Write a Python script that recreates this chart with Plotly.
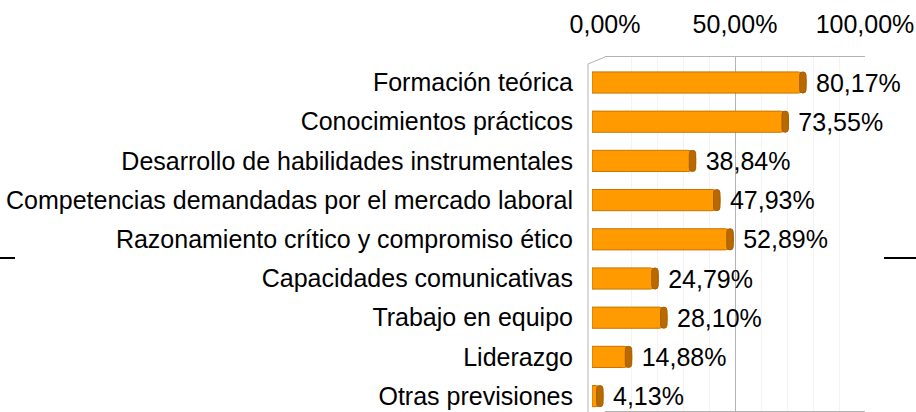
import plotly.graph_objects as go

categories = [
    "Formación teórica",
    "Conocimientos prácticos",
    "Desarrollo de habilidades instrumentales",
    "Competencias demandadas por el mercado laboral",
    "Razonamiento crítico y compromiso ético",
    "Capacidades comunicativas",
    "Trabajo en equipo",
    "Liderazgo",
    "Otras previsiones",
]
values = [80.17, 73.55, 38.84, 47.93, 52.89, 24.79, 28.10, 14.88, 4.13]
tick_values = [0, 50, 100]
tick_labels = ["0,00%", "50,00%", "100,00%"]

W, H = 916, 412
FONT = "Liberation Sans, Arial, sans-serif"
FS = 25

labels = ["\u00a0" + f"{v:.2f}".replace(".", ",") + "%" for v in values]
pos = list(range(len(categories)))
cap = 2.4

fig = go.Figure()
# back wall (empty subplot for gridlines and top tick labels) - drawn first
fig.add_trace(go.Scatter(x=[], y=[], xaxis="x", yaxis="y", showlegend=False))
fig.add_trace(go.Bar(
    y=pos, x=values, orientation="h", width=0.54,
    marker=dict(color="#ff9a00", line=dict(color="#c97400", width=1), cornerradius=8),
    xaxis="x2", yaxis="y2", hoverinfo="skip", showlegend=False,
))
fig.add_trace(go.Bar(
    y=pos, x=[cap] * len(values), base=[v - cap for v in values], orientation="h", width=0.54,
    marker=dict(color="#b86a00", line=dict(color="#a85f00", width=1), cornerradius=6),
    text=labels, textposition="outside", constraintext="none", cliponaxis=False,
    textfont=dict(size=FS, color="#000000", family=FONT),
    xaxis="x2", yaxis="y2", hoverinfo="skip", showlegend=False,
))

y0 = 82.5
step = 39.2
rng_top = -y0 / step
rng_bot = (H - y0) / step

fig.update_layout(
    width=W, height=H, margin=dict(l=0, r=0, t=0, b=0, autoexpand=False),
    paper_bgcolor="white", plot_bgcolor="rgba(0,0,0,0)",
    font=dict(family=FONT, size=FS, color="#000000"),
    barmode="overlay",
    xaxis=dict(domain=[605 / W, 865 / W], range=[0, 100], anchor="y", side="top",
               tickvals=tick_values, ticktext=tick_labels, showgrid=True, gridcolor="#b3b3b3",
               gridwidth=1, zeroline=False, showline=True, linecolor="#b3b3b3", mirror=True,
               ticks="", ticklabelstandoff=13, tickfont=dict(size=FS, color="#000000", family=FONT),
               minor=dict(dtick=10, showgrid=True, gridcolor="#f3f3f3"), fixedrange=True,
               automargin=False),
    yaxis=dict(domain=[1 / H, 1 - 57 / H], range=[0, 1], anchor="x", visible=False,
               fixedrange=True, automargin=False),
    xaxis2=dict(domain=[592 / W, (592 + 267) / W], range=[0, 100], anchor="y2", visible=False,
                fixedrange=True, automargin=False),
    yaxis2=dict(domain=[0, 1], range=[rng_bot, rng_top], tickvals=pos, ticktext=categories,
                anchor="x2", showgrid=False, zeroline=False, showline=False, ticks="",
                ticklabelstandoff=18, tickfont=dict(size=FS, color="#000000", family=FONT),
                fixedrange=True, automargin=False),
)

# left side wall of 3D frame
fig.add_shape(type="line", xref="paper", yref="paper", x0=588 / W, x1=588 / W,
              y0=0, y1=1 - 64 / H, line=dict(color="#b3b3b3", width=1), layer="below")
fig.add_shape(type="line", xref="paper", yref="paper", x0=588 / W, x1=605 / W,
              y0=1 - 64 / H, y1=1 - 57 / H, line=dict(color="#b3b3b3", width=1), layer="below")
# short stray lines at edges
fig.add_shape(type="line", xref="paper", yref="paper", x0=0, x1=15 / W,
              y0=1 - 258 / H, y1=1 - 258 / H, line=dict(color="#000000", width=2))
fig.add_shape(type="line", xref="paper", yref="paper", x0=884 / W, x1=1,
              y0=1 - 258 / H, y1=1 - 258 / H, line=dict(color="#000000", width=2))

fig.write_html(
    "out.html",
    config={"responsive": False, "displayModeBar": False},
    post_script="document.body.style.margin='0';document.body.style.overflow='hidden';",
)
